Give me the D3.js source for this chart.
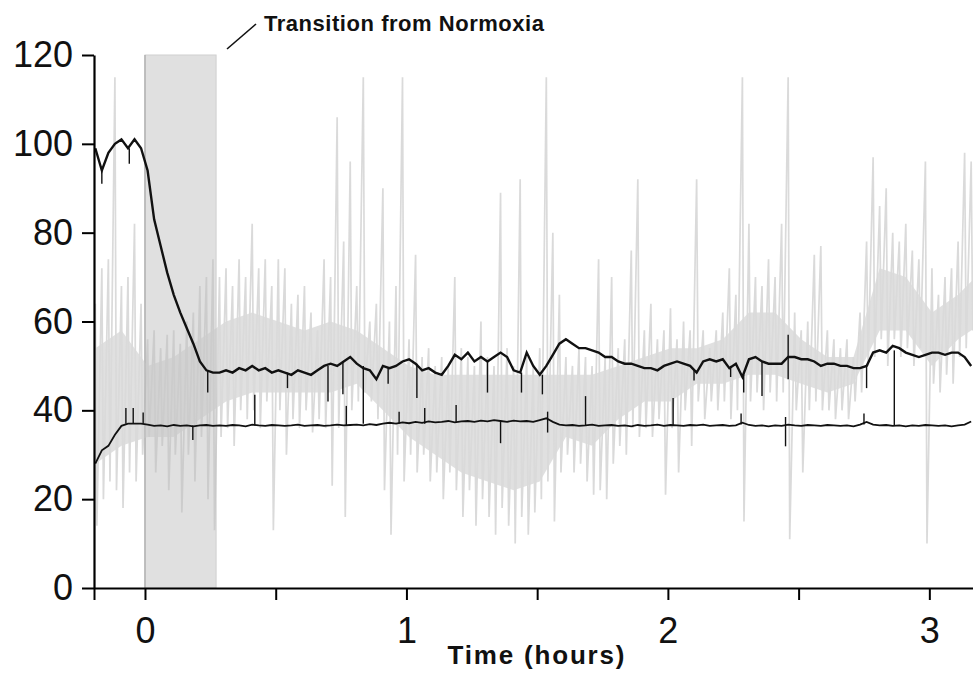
<!DOCTYPE html>
<html>
<head>
<meta charset="utf-8">
<script src="https://cdn.jsdelivr.net/npm/d3@7"></script>
<style>
  body { margin: 0; background: #fff; }
  text { font-family: 'Liberation Sans', Arial, sans-serif; }
</style>
</head>
<body>
<div id="app"></div>
<script>
'use strict'

const width = 973
const height = 673

// sampling grid, hours (one sample every 0.025 h)
const sampleTimes = d3.range(135).map(i => -0.19 + i * 0.025)
// coarse grid for the dense core of the grey trace (every 0.1 h)
const bandTimes = d3.range(35).map(i => -0.19 + i * 0.1)

// light grey trace: dense core
const bandTop = [
  54, 58, 50, 52, 56, 60, 62, 60, 58, 60,
  58, 54, 50, 48, 48, 48, 48, 48, 48, 48,
  50, 52, 54, 54, 56, 62, 62, 56, 52, 52,
  72, 70, 62, 66, 72
]
const bandBottom = [
  28, 32, 34, 34, 38, 42, 44, 44, 44, 44,
  46, 40, 34, 30, 26, 24, 22, 24, 34, 32,
  38, 42, 42, 46, 46, 48, 48, 46, 44, 46,
  58, 58, 50, 56, 60
]

// light grey trace: excursion per sample
const greyHigh = [
  64, 72, 74, 115, 68, 70, 82, 64, 56, 58,
  54, 57, 58, 55, 60, 62, 68, 70, 74, 70,
  72, 68, 74, 70, 82, 72, 74, 68, 74, 72,
  64, 66, 68, 62, 58, 74, 70, 106, 78, 96,
  68, 115, 60, 64, 90, 60, 68, 115, 56, 75,
  52, 54, 50, 52, 50, 70, 54, 52, 50, 60,
  52, 50, 89, 54, 50, 92, 52, 50, 54, 115,
  80, 66, 52, 50, 54, 52, 50, 74, 52, 70,
  54, 56, 76, 92, 58, 64, 56, 58, 63, 56,
  60, 58, 92, 58, 54, 58, 62, 72, 66, 115,
  82, 70, 68, 74, 70, 82, 115, 62, 58, 60,
  75, 77, 58, 56, 54, 56, 52, 62, 78, 97,
  86, 90, 80, 78, 82, 76, 74, 96, 72, 66,
  70, 72, 78, 98, 96
]
const greyLow = [
  14, 20, 24, 22, 18, 26, 24, 30, 34, 26,
  32, 22, 30, 17, 30, 24, 34, 20, 13, 34,
  36, 32, 40, 38, 40, 36, 42, 13, 40, 30,
  38, 36, 40, 35, 38, 36, 23, 36, 16, 40,
  42, 44, 42, 38, 22, 12, 30, 24, 30, 26,
  30, 24, 26, 20, 26, 22, 16, 22, 14, 20,
  16, 12, 18, 14, 10, 16, 12, 17, 20, 24,
  15, 26, 30, 26, 28, 24, 21, 22, 20, 28,
  32, 30, 36, 34, 36, 34, 38, 21, 36, 26,
  40, 32, 42, 38, 42, 40, 42, 38, 40, 15,
  42, 44, 40, 44, 42, 44, 11, 40, 26, 40,
  42, 40, 40, 38, 40, 38, 42, 44, 50, 52,
  56, 50, 56, 52, 54, 50, 54, 10, 46, 44,
  48, 46, 52, 54, 58
]

// black traces
const upperValues = [
  99, 94, 98, 100, 101, 99, 101, 99, 94, 83,
  77, 71, 66, 62, 58.5, 55, 51, 49, 48.5, 48.5,
  49, 48.5, 49.5, 49, 50, 49, 49.5, 48.5, 49, 48.5,
  48, 49, 48.5, 48, 49, 50, 50.5, 50, 51, 52,
  50.5, 49.5, 49, 47, 50, 49.5, 50, 51, 51.5, 50.5,
  49, 49.5, 48.5, 48, 50, 52.5, 51.5, 53, 51, 52,
  51, 52, 53, 52, 49, 48.5, 53, 50, 48, 50,
  52.5, 55, 56, 55, 54, 54, 53.5, 53, 52, 52,
  51, 50.5, 50.5, 50, 49.5, 49.5, 49, 50, 50.5, 51,
  50.5, 50, 48.5, 51, 51.5, 51, 51.5, 49.5, 50.5, 47.5,
  51.5, 52, 51, 50.5, 50.5, 50.5, 52, 52, 51.5, 51.5,
  51, 50, 50.5, 50.5, 50, 50, 49.5, 49.5, 50, 53,
  53.5, 53, 54.5, 54, 53, 52.5, 52, 52.5, 53, 53,
  52.5, 53, 53, 52, 50
]
const lowerValues = [
  28, 31, 32, 34.5, 36.5, 37, 37, 37, 36.8, 36.5,
  36.6, 36.4, 36.7, 36.5, 36.6, 36.4, 36.6, 36.7, 36.5, 36.6,
  36.5, 36.7, 36.6, 36.4, 36.8, 36.6, 36.5, 36.7, 36.6, 36.5,
  36.6, 36.8, 36.5, 36.6, 36.7, 36.5, 36.6, 36.8, 36.6, 36.7,
  36.8, 36.6, 36.9, 36.7, 37, 37.2, 37, 37.3, 37.1, 37.4,
  37.2, 37.5, 37.3, 37.4, 37.6, 37.3, 37.5, 37.6, 37.4, 37.7,
  37.5, 37.8, 37.6, 37.4, 37.7, 37.5, 37.6, 37.4, 37.8, 38.2,
  37.4, 36.8, 36.6, 36.7, 36.5, 36.6, 36.8, 36.5, 36.6, 36.7,
  36.5, 36.6, 36.4, 36.7, 36.5, 36.6, 36.8, 36.5, 36.7, 36.6,
  36.5, 36.7, 36.6, 36.8, 36.5, 36.6, 36.7, 36.5, 36.6, 37.2,
  36.7, 36.5, 36.6, 36.4, 36.6, 36.5, 36.8, 36.6, 36.5, 36.7,
  36.6, 36.5, 36.7, 36.6, 36.5, 36.6, 36.4, 36.8, 37.4, 36.8,
  36.6, 36.7, 36.5, 36.6, 36.4, 36.6, 36.5, 36.7, 36.6, 36.5,
  36.6, 36.4, 36.6, 36.8, 37.5
]

// brief artefact spikes on the black traces: [time, from, to]
const upperSpikes = [
  [-0.165, 94, 91], [-0.06, 99, 95.5], [0.24, 49, 44], [0.545, 48.5, 45],
  [0.70, 50, 42], [0.757, 51, 43.6], [0.835, 50, 37], [0.93, 49.5, 46],
  [1.04, 50.5, 42.8], [1.31, 51, 44], [1.44, 48.5, 44], [1.52, 48, 43.6],
  [2.10, 49, 46.7], [2.24, 50, 47.5], [2.29, 48, 44], [2.36, 51, 43.2],
  [2.46, 57, 47], [2.76, 50, 45], [2.866, 53.5, 36.5]
]
const lowerSpikes = [
  [-0.073, 37, 40.5], [-0.045, 37, 40.5], [-0.007, 37, 39.5], [0.183, 36.6, 33.3],
  [0.42, 36.6, 43.5], [0.77, 36.6, 41], [0.972, 37, 39.7], [1.07, 37, 40.5],
  [1.19, 37.2, 41.2], [1.36, 37.5, 32.6], [1.54, 35, 39.7], [1.685, 36.6, 43.2],
  [2.02, 36.6, 42.8], [2.28, 36.8, 39.3], [2.45, 31.9, 38.5], [2.75, 36.8, 39.3]
]

const transition = [0, 0.272]
const yTicks = [0, 20, 40, 60, 80, 100, 120]
const xTicks = [0, 0.5, 1, 1.5, 2, 2.5, 3]
const xLabels = [0, 1, 2, 3]

const x = d3.scaleLinear().domain([-0.195, 3.167]).range([94, 973])
const y = d3.scaleLinear().domain([0, 120]).range([588, 55])

const svg = d3.select('#app').append('svg')
  .attr('width', width)
  .attr('height', height)

svg.append('defs').append('clipPath')
  .attr('id', 'plot')
  .append('rect')
  .attr('x', x(-0.195)).attr('y', 0)
  .attr('width', x(3.167) - x(-0.195)).attr('height', y(0))

// shaded transition window
svg.append('rect')
  .attr('x', x(transition[0]))
  .attr('y', y(120))
  .attr('width', x(transition[1]) - x(transition[0]))
  .attr('height', y(0) - y(120))
  .style('fill', '#e0e0e0')
  .style('stroke', '#d0d0d0')
svg.append('line')
  .attr('x1', x(transition[0])).attr('x2', x(transition[0]))
  .attr('y1', y(120)).attr('y2', y(0))
  .style('stroke', '#a8a8a8')
  .style('stroke-width', 1.2)

const plot = svg.append('g').attr('clip-path', 'url(#plot)')

// grey trace: dense core + zigzag excursions, one group so overlaps do not darken
const grey = plot.append('g').style('opacity', 0.55)

const band = d3.area()
  .x((d, i) => x(bandTimes[i]))
  .y0((d, i) => y(bandBottom[i]))
  .y1(d => y(d))

grey.append('path')
  .attr('d', band(bandTop))
  .style('fill', '#c8c8c8')

const greyPoints = []
sampleTimes.forEach((t, i) => {
  greyPoints.push([t, greyHigh[i]])
  greyPoints.push([t + 0.006, greyLow[i]])
})
const line = d3.line().x(d => x(d[0])).y(d => y(d[1]))

grey.append('path')
  .attr('d', line(greyPoints))
  .style('fill', 'none')
  .style('stroke', '#bcbcbc')
  .style('stroke-width', 1.7)

const blackLine = d3.line().x((d, i) => x(sampleTimes[i])).y(d => y(d))

plot.append('path')
  .attr('d', blackLine(lowerValues))
  .style('fill', 'none')
  .style('stroke', '#111')
  .style('stroke-width', 1.8)

plot.append('path')
  .attr('d', blackLine(upperValues))
  .style('fill', 'none')
  .style('stroke', '#111')
  .style('stroke-width', 2.4)

plot.selectAll('.spike')
  .data(upperSpikes.concat(lowerSpikes))
  .enter().append('line')
  .attr('class', 'spike')
  .attr('x1', d => x(d[0])).attr('x2', d => x(d[0]))
  .attr('y1', d => y(d[1])).attr('y2', d => y(d[2]))
  .style('stroke', '#111')
  .style('stroke-width', 1.4)

// axes
const yAxis = d3.axisLeft(y)
  .tickValues(yTicks)
  .tickSize(12)
  .tickSizeOuter(0)
  .tickPadding(9)

const gy = svg.append('g')
  .attr('transform', `translate(${x(-0.195)},0)`)
  .call(yAxis)
gy.select('.domain').style('stroke-width', 2.2)
gy.selectAll('.tick line').style('stroke-width', 2)
gy.selectAll('.tick text')
  .style('font-size', '36px')
  .style('fill', '#111')

const xAxis = d3.axisBottom(x)
  .tickValues([-0.195].concat(xTicks))
  .tickSize(12)
  .tickSizeOuter(0)
  .tickPadding(17)
  .tickFormat(d => xLabels.includes(d) ? d : '')

const gx = svg.append('g')
  .attr('transform', `translate(0,${y(0)})`)
  .call(xAxis)
gx.select('.domain').style('stroke-width', 2.2)
gx.selectAll('.tick line').style('stroke-width', 2)
gx.selectAll('.tick text')
  .style('font-size', '36px')
  .style('fill', '#111')

svg.append('text')
  .attr('x', 536)
  .attr('y', 664)
  .attr('text-anchor', 'middle')
  .attr('textLength', 177)
  .style('font-size', '26px')
  .style('font-weight', 'bold')
  .style('fill', '#111')
  .text('Time (hours)')

// annotation
svg.append('line')
  .attr('x1', 227).attr('y1', 49)
  .attr('x2', 256).attr('y2', 24)
  .style('stroke', '#111')
  .style('stroke-width', 1.6)

svg.append('text')
  .attr('x', 264)
  .attr('y', 31)
  .attr('textLength', 280)
  .style('font-size', '22px')
  .style('font-weight', 'bold')
  .style('fill', '#111')
  .text('Transition from Normoxia')
</script>
</body>
</html>
